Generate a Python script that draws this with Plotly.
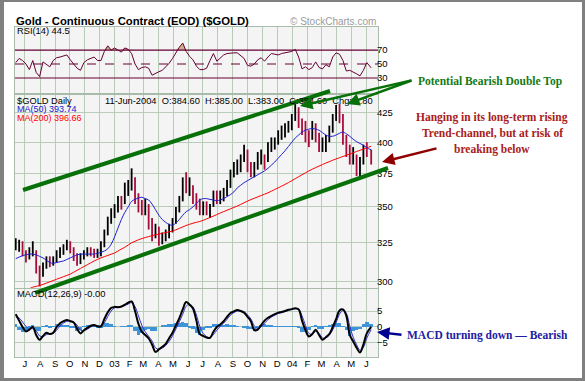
import math
import plotly.graph_objects as go

W, H = 585, 381
def px(x): return x / W
def py(y): return 1 - y / H

dates = ["2002-06-12","2002-06-19","2002-06-26","2002-07-03","2002-07-10","2002-07-17","2002-07-24","2002-07-31",
 "2002-08-07","2002-08-14","2002-08-21","2002-08-28","2002-09-04","2002-09-11","2002-09-18","2002-09-25",
 "2002-10-02","2002-10-09","2002-10-16","2002-10-23","2002-10-30","2002-11-06","2002-11-13","2002-11-20",
 "2002-11-27","2002-12-04","2002-12-11","2002-12-18","2002-12-25",
 "2003-01-01","2003-01-08","2003-01-15","2003-01-22","2003-01-29","2003-02-05","2003-02-12","2003-02-19",
 "2003-02-26","2003-03-05","2003-03-12","2003-03-19","2003-03-26","2003-04-02","2003-04-09","2003-04-16",
 "2003-04-23","2003-04-30","2003-05-07","2003-05-14","2003-05-21","2003-05-28","2003-06-04","2003-06-11",
 "2003-06-18","2003-06-25","2003-07-02","2003-07-09","2003-07-16","2003-07-23","2003-07-30","2003-08-06",
 "2003-08-13","2003-08-20","2003-08-27","2003-09-03","2003-09-10","2003-09-17","2003-09-24","2003-10-01",
 "2003-10-08","2003-10-15","2003-10-22","2003-10-29","2003-11-05","2003-11-12","2003-11-19","2003-11-26",
 "2003-12-03","2003-12-10","2003-12-17","2003-12-24","2003-12-31",
 "2004-01-07","2004-01-14","2004-01-21","2004-01-28","2004-02-04","2004-02-11","2004-02-18","2004-02-25",
 "2004-03-03","2004-03-10","2004-03-17","2004-03-24","2004-03-31","2004-04-07","2004-04-14","2004-04-21",
 "2004-04-28","2004-05-05","2004-05-12","2004-05-19","2004-05-26","2004-06-02","2004-06-11"]

high = [328,327,326,320,322,326,320,310,312,316,316,316,320,322,324,327,326,322,318,318,320,322,322,321,321,326,334,343,349,
        352,358,358,368,370,379,372,360,355,356,352,342,338,336,332,334,338,342,350,358,372,376,372,366,360,356,354,354,352,
        362,362,362,364,370,378,384,386,390,398,394,384,384,392,394,390,400,404,404,410,414,416,418,424,
        433,430,420,418,410,418,416,408,404,406,414,424,432,433,424,406,398,396,390,388,398,400,394]
low = [320,319,316,312,314,316,305,297,303,308,309,310,312,315,317,320,318,313,310,311,314,316,316,315,315,316,322,330,338,
       342,346,348,352,358,362,352,346,344,344,334,326,328,323,324,326,328,332,338,346,354,360,358,352,348,344,344,344,342,
       350,352,352,354,358,364,372,374,376,384,376,372,372,378,382,378,384,392,394,398,402,404,408,410,
       418,412,406,400,396,402,400,392,392,392,400,408,418,416,398,388,382,382,373,372,382,388,382]
close = [322,324,318,316,318,322,307,304,310,312,311,313,318,319,322,323,320,315,313,315,318,320,319,318,318,324,332,340,346,
         348,355,354,364,366,370,356,350,348,350,338,330,334,326,328,330,335,340,348,355,366,364,364,355,351,347,350,346,348,
         358,356,356,360,366,375,380,380,386,392,380,376,378,388,388,384,396,400,400,406,410,412,415,420,
         428,416,412,404,402,414,404,396,398,400,410,420,428,422,402,392,386,390,376,382,394,392,384.6]
ma50 = [314.5,315.5,316.5,317,317.5,317.5,317,316,315,313.5,312,311.5,312,312.5,313,314,315,316,317,317.5,
        317.5,317.5,317.5,317.5,318,318.5,319.5,321,324,329,335,341,346,350,354,355.5,356.5,357,356,355,
        352,348,344,341,339,337.5,337,338.5,341,344,346.5,348,350,352.5,355,356,356,355.5,355,354.5,
        355,356,357.5,359,361,364,366,368,369.5,371,372.5,374,375.5,377,379,381.5,384,387,390,393,
        396.5,400,403.5,406,408.5,410,411,411.5,411,410,408,406,405,405,406,407.5,408.5,407,405,402.5,
        400.5,399,397.5,395.5,393.74]
ma200 = [290,291,292.5,294,295.5,296.5,297,297.5,298.2,299,299.8,300.6,301.4,302.2,303,303.8,304.6,305.8,307,308.2,
         309.4,310.6,311.8,313,314,315,315.8,316.6,317.4,318.2,319.5,320.8,322,323.5,325,326,327,327.8,328.5,329.2,
         329.8,330.4,330.9,331.4,331.9,332.4,333,333.8,334.8,335.8,336.8,337.6,338.4,339,339.6,340.4,341.4,342.4,343.4,344.5,
         345.6,346.6,347.6,348.6,349.6,350.6,351.8,353,354.2,355.3,356.3,357.3,358.3,359.3,360.3,361.5,362.8,364,365.3,366.6,
         368,369.5,371,372.5,374,375.5,377,378.3,379.6,380.8,382,383.2,384.3,385.4,386.4,387.4,388.4,389.4,390.4,391.4,
         392.4,393.4,394.4,395.4,396.66]
rsi = [52,58,55,50,42,55,38,32,53,49,46,55,59,60,62,63,56,50,44,41,52,56,58,60,55,55,68,76,70,73,
       70,67,73,71,65,50,42,45,46,44,34,37,39,41,46,51,58,67,74,80,68,61,56,47,42,42,44,55,65,54,
       58,63,65,66,66,66,62,58,48,47,50,56,59,54,60,65,64,63,65,66,66,68,71,60,43,46,42,45,53,45,
       43,49,46,60,66,64,55,40,41,39,36,33,41,52,44.5]
macd = [4.0,2.0,0.0,-1.4,-0.8,0.0,-2.5,-4.0,-2.8,-1.8,-2.2,-1.8,0.0,1.2,1.8,2.2,1.8,1.4,-0.5,-2.0,
        -1.0,-0.3,0.4,0.6,0.2,0.2,2.5,4.6,6.0,6.3,6.2,6.4,7.0,7.6,8.0,5.0,1.0,-1.5,-2.5,-3.6,
        -5.5,-7.8,-7.0,-6.2,-5.3,-3.5,-1.8,0.5,2.8,5.5,7.8,7.0,5.8,2.0,-2.2,-2.8,-3.3,-3.4,-1.5,0.0,
        0.8,1.8,3.2,4.4,4.9,5.3,5.0,4.5,3.2,1.8,-1.0,-0.8,0.6,2.0,2.9,3.5,4.0,4.5,4.7,5.0,
        5.4,5.6,5.9,5.5,2.0,-1.0,-3.0,-2.2,-0.9,-2.5,-4.0,-3.2,-2.2,0.0,2.5,5.2,5.5,3.5,-2.5,-4.5,
        -6.5,-8.0,-5.5,-2.0,0.0]
signal = [3.2,2.8,1.6,0.2,-0.6,-0.5,-1.2,-2.8,-3.0,-2.4,-2.1,-2.0,-1.0,0.3,1.2,1.8,1.9,1.6,0.6,-1.0,
          -1.2,-0.7,0.0,0.4,0.4,0.3,1.3,3.3,5.0,6.0,6.2,6.3,6.7,7.2,7.6,6.4,3.5,0.5,-1.5,-2.9,
          -4.4,-6.5,-7.0,-6.6,-5.8,-4.5,-2.8,-0.6,1.6,4.0,6.5,7.1,6.3,3.8,0.2,-2.0,-3.0,-3.3,-2.4,-1.0,
          0.2,1.2,2.4,3.7,4.5,5.0,5.0,4.7,3.8,2.5,0.4,-0.5,0.0,1.2,2.3,3.1,3.7,4.2,4.5,4.8,
          5.2,5.5,5.7,5.6,3.5,0.5,-2.0,-2.3,-1.4,-2.0,-3.4,-3.4,-2.6,-0.9,1.4,4.0,5.2,4.3,0.3,-3.2,
          -5.5,-7.3,-6.4,-3.5,-0.8]
hist = [0.8,-0.8,-1.6,-1.6,-0.2,0.5,-1.3,-1.2,0.2,0.6,-0.1,0.2,1.0,0.9,0.6,0.4,-0.1,-0.2,-1.1,-1.0,
        0.2,0.4,0.4,0.2,-0.2,-0.1,1.2,1.3,1.0,0.3,0.0,0.1,0.3,0.4,0.4,-1.4,-2.5,-2.0,-1.0,-0.7,
        -1.1,-1.3,0.0,0.4,0.5,1.0,1.0,1.1,1.2,1.5,1.3,-0.1,-0.5,-1.8,-2.4,-0.8,-0.3,-0.1,0.9,1.0,
        0.6,0.6,0.8,0.7,0.4,0.3,0.0,-0.2,-0.6,-0.7,-1.4,-0.3,0.6,0.8,0.6,0.4,0.3,0.3,0.2,0.2,
        0.2,0.1,0.2,-0.1,-1.5,-1.5,-1.0,0.1,0.5,-0.5,-0.6,0.2,0.4,0.9,1.1,1.2,0.3,-0.8,-2.8,-1.3,
        -1.0,-0.7,0.9,1.5,0.8]

month_ticks = ["2002-07-01","2002-08-01","2002-09-01","2002-10-01","2002-11-01","2002-12-01","2003-01-01",
               "2003-02-01","2003-03-01","2003-04-01","2003-05-01","2003-06-01","2003-07-01","2003-08-01",
               "2003-09-01","2003-10-01","2003-11-01","2003-12-01","2004-01-01","2004-02-01","2004-03-01",
               "2004-04-01","2004-05-01","2004-06-01"]
month_labels = ["J","A","S","O","N","D","03","F","M","A","M","J","J","A","S","O","N","D","04","F","M","A","M","J"]
price_ticks = [300, 325, 350, 375, 400, 425]
rsi_ticks = [30, 50, 70]
macd_ticks = [-5, 0, 5]

X_RANGE = ["2002-06-10 12:00", "2004-06-25"]
GRID = "#b9cbb9"
FRAME = "#a9bba9"
MAROON = "#660033"
SANS = "Liberation Sans"
SERIF = "Liberation Serif"

fig = go.Figure()

# RSI panel
n = len(dates)
fig.add_trace(go.Scatter(x=dates, y=[70]*n, mode="lines", line=dict(width=0), hoverinfo="skip",
                         xaxis="x", yaxis="y", showlegend=False))
fig.add_trace(go.Scatter(x=dates, y=[max(v, 70) for v in rsi], mode="lines", line=dict(width=0),
                         fill="tonexty", fillcolor="#c8b48c", xaxis="x", yaxis="y", showlegend=False))
fig.add_trace(go.Scatter(x=dates, y=[30]*n, mode="lines", line=dict(width=0), hoverinfo="skip",
                         xaxis="x", yaxis="y", showlegend=False))
fig.add_trace(go.Scatter(x=dates, y=[min(v, 30) for v in rsi], mode="lines", line=dict(width=0),
                         fill="tonexty", fillcolor="#c8b48c", xaxis="x", yaxis="y", showlegend=False))
fig.add_trace(go.Scatter(x=dates, y=rsi, mode="lines", line=dict(color=MAROON, width=1),
                         xaxis="x", yaxis="y", showlegend=False))

# Price bars
up_x, up_y, dn_x, dn_y = [], [], [], []
prev = None
for d, h, l, c in zip(dates, high, low, close):
    if prev is None or c >= prev:
        up_x += [d, d, None]; up_y += [l, h, None]
    else:
        dn_x += [d, d, None]; dn_y += [l, h, None]
    prev = c
fig.add_trace(go.Scatter(x=up_x, y=up_y, mode="lines", line=dict(color="black", width=1.8),
                         xaxis="x2", yaxis="y2", showlegend=False))
fig.add_trace(go.Scatter(x=dn_x, y=dn_y, mode="lines", line=dict(color="#a80c3a", width=1.8),
                         xaxis="x2", yaxis="y2", showlegend=False))
fig.add_trace(go.Scatter(x=dates, y=ma200, mode="lines", line=dict(color="#ff0000", width=1, shape="spline"),
                         xaxis="x2", yaxis="y2", showlegend=False))
fig.add_trace(go.Scatter(x=dates, y=ma50, mode="lines", line=dict(color="#2020d0", width=1, shape="spline"),
                         xaxis="x2", yaxis="y2", showlegend=False))

# MACD panel
fig.add_trace(go.Bar(x=dates, y=hist, marker=dict(color="#3d94d6", line=dict(width=0)),
                     width=7*86400000, xaxis="x3", yaxis="y3", showlegend=False))
fig.add_trace(go.Scatter(x=dates, y=signal, mode="lines", line=dict(color="#3030d0", width=1, shape="spline"),
                         xaxis="x3", yaxis="y3", showlegend=False))
fig.add_trace(go.Scatter(x=dates, y=macd, mode="lines", line=dict(color="black", width=2, shape="spline"),
                         xaxis="x3", yaxis="y3", showlegend=False))

xdom = [px(15), px(378)]
def xax(anchor, labels):
    return dict(domain=xdom, anchor=anchor, type="date", range=X_RANGE, tickvals=month_ticks,
                ticktext=month_labels, showticklabels=labels, showgrid=True, gridcolor=GRID, gridwidth=1,
                ticks="", ticklen=0, ticklabelstandoff=-2, showline=True, linecolor=FRAME, mirror=True,
                zeroline=False, tickfont=dict(family=SANS, size=9.5, color="black"))
def yax(anchor, dom, rng, ticks, grid, typ="linear"):
    return dict(domain=dom, anchor=anchor, type=typ, range=rng, tickvals=ticks, side="right",
                showgrid=grid, gridcolor=GRID, gridwidth=1, ticks="", ticklen=0, ticklabelstandoff=-4,
                showline=True, linecolor=FRAME, mirror=True, zeroline=False,
                tickfont=dict(family=SANS, size=9.5, color="black"))

fig.update_layout(
    width=W, height=H, margin=dict(l=0, r=0, t=0, b=0),
    paper_bgcolor="white", plot_bgcolor="#f4f4f4", bargap=0,
    xaxis=xax("y", False), xaxis2=xax("y2", False), xaxis3=xax("y3", True),
    yaxis=yax("x", [py(93), py(27)], [8.6, 102.9], rsi_ticks, False),
    yaxis2=yax("x2", [py(288), py(95)], [math.log10(296), math.log10(441)], price_ticks, True, "log"),
    yaxis3=yax("x3", [py(357), py(289)], [-9.4, 11.9], macd_ticks, True),
)

shapes = []
for lvl, dash in [(70, "solid"), (50, "dash"), (30, "solid")]:
    shapes.append(dict(type="line", xref="x domain", yref="y", x0=0, x1=1, y0=lvl, y1=lvl,
                       line=dict(color=MAROON, width=1.2, dash=dash)))
for x0, y0, x1, y1 in [(0, 0, 585, 2), (0, 0, 4, 381), (0, 378, 585, 381), (582, 0, 585, 381)]:
    shapes.append(dict(type="rect", xref="paper", yref="paper", x0=px(x0), x1=px(x1), y0=py(y1), y1=py(y0),
                       fillcolor="#808080", line=dict(width=0)))
GREEN = "#087008"
for (x0, y0, x1, y1) in [(23, 190, 330, 91), (35, 293, 388, 168)]:
    shapes.append(dict(type="line", xref="paper", yref="paper", x0=px(x0), y0=py(y0), x1=px(x1), y1=py(y1),
                       line=dict(color=GREEN, width=4)))
fig.update_layout(shapes=shapes)

ann = []
def text(x, y, s, size, color="black", family=SANS, bold=False, anchor="left"):
    ann.append(dict(x=px(x), y=py(y), xref="paper", yref="paper", text=("<b>%s</b>" % s) if bold else s,
                    showarrow=False, xanchor=anchor, yanchor="middle",
                    font=dict(family=family, size=size, color=color)))
def arrow(hx, hy, tx, ty, color, width):
    ann.append(dict(x=px(hx), y=py(hy), xref="paper", yref="paper", text="", showarrow=True,
                    ax=tx - hx, ay=ty - hy, arrowhead=2, arrowsize=1, arrowwidth=width, arrowcolor=color))

text(14, 21, "Gold - Continuous Contract (EOD) ($GOLD)", 11.3, bold=True)
text(378, 21, "© StockCharts.com", 10, color="#9a9a9a", anchor="right")
text(15, 31, "RSI(14) 44.5", 9.3)
text(15, 101, "$GOLD Daily", 9.3)
text(103, 101, "11-Jun-2004  O:384.60  H:385.00  L:383.00  C:384.60  Chg: 1.80", 9.3)
text(15, 109.5, "MA(50) 393.74", 9, color="#2020d0")
text(15, 118, "MA(200) 396.66", 9, color="#ff0000")
text(15, 294, "MACD(12,26,9) -0.00", 9.3)

text(416, 81, "Potential Bearish Double Top", 11.5, color="#137a13", family=SERIF, bold=True)
text(492, 117, "Hanging in its long-term rising", 11.5, color="#a82020", family=SERIF, bold=True, anchor="center")
text(492, 133, "Trend-channel, but at risk of", 11.5, color="#a82020", family=SERIF, bold=True, anchor="center")
text(492, 149, "breaking below", 11.5, color="#a82020", family=SERIF, bold=True, anchor="center")
text(405, 335, "MACD turning down — Bearish", 11.5, color="#2020a0", family=SERIF, bold=True)

arrow(300, 106, 413, 80, GREEN, 2.5)
arrow(347, 104, 413, 80, GREEN, 2.5)
arrow(382, 162, 438, 148, "#900000", 2.5)
arrow(377, 332, 403, 335, "#000090", 2.5)

fig.update_layout(annotations=ann)
fig.write_html("out.html", config={"displayModeBar": False},
               post_script="document.body.style.margin='0';document.body.style.overflow='hidden';")
